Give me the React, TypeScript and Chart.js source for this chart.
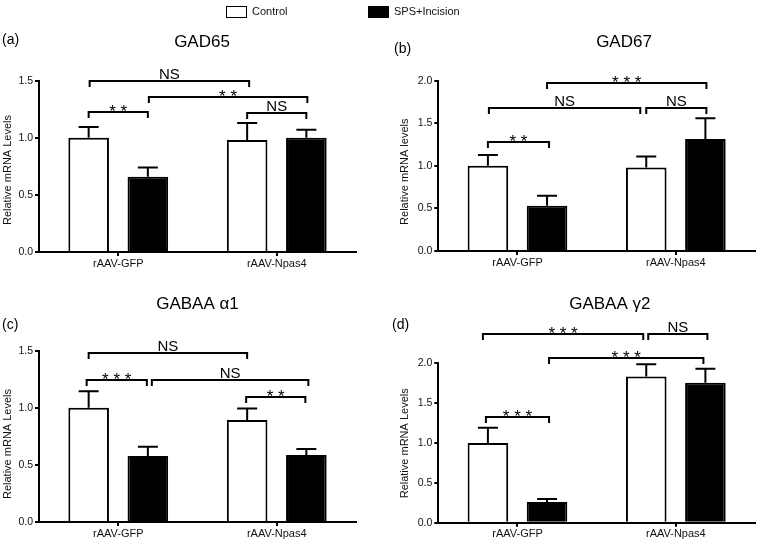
import React, { useEffect, useRef } from "react";
import { Chart, registerables } from "chart.js";
Chart.register(...registerables);

const FONT = "'Liberation Sans', Arial, Helvetica, sans-serif";
Chart.defaults.font.family = FONT;

// ---- data ----
const categories = ["rAAV-GFP", "rAAV-Npas4"];
const seriesNames = ["Control", "SPS+Incision"];

const gad65Control = [1.0, 0.98];
const gad65ControlSem = [0.095, 0.15];
const gad65Sps = [0.66, 1.0];
const gad65SpsSem = [0.08, 0.07];

const gad67Control = [1.0, 0.98];
const gad67ControlSem = [0.127, 0.13];
const gad67Sps = [0.53, 1.315];
const gad67SpsSem = [0.12, 0.245];

const gabaA1Control = [1.0, 0.893];
const gabaA1ControlSem = [0.144, 0.1];
const gabaA1Sps = [0.578, 0.587];
const gabaA1SpsSem = [0.08, 0.052];

const gabaG2Control = [1.0, 1.833];
const gabaG2ControlSem = [0.19, 0.154];
const gabaG2Sps = [0.26, 1.757];
const gabaG2SpsSem = [0.037, 0.176];

const yTicks15 = [0, 0.5, 1.0, 1.5];
const yTicks20 = [0, 0.5, 1.0, 1.5, 2.0];

// significance brackets: from [dataset, index] to [dataset, index], height (value), label
const gad65Brackets = [
  { f: [0, 0], t: [1, 0], y: 1.223, l: "**", dx: [0, 0] },
  { f: [0, 0], t: [0, 1], y: 1.5, l: "NS", dx: [1, 2] },
  { f: [1, 0], t: [1, 1], y: 1.36, l: "**", dx: [1, 1] },
  { f: [0, 1], t: [1, 1], y: 1.22, l: "NS", dx: [0, 0] },
];
const gad67Brackets = [
  { f: [1, 0], t: [1, 1], y: 1.97, l: "***", dx: [0, 1] },
  { f: [0, 0], t: [0, 1], y: 1.683, l: "NS", dx: [1, -6] },
  { f: [0, 1], t: [1, 1], y: 1.683, l: "NS", dx: [0, 1] },
  { f: [0, 0], t: [1, 0], y: 1.276, l: "**", dx: [0, 2] },
];
const gabaA1Brackets = [
  { f: [0, 0], t: [0, 1], y: 1.477, l: "NS", dx: [0, 0] },
  { f: [0, 0], t: [1, 0], y: 1.243, l: "***", dx: [-2, -1] },
  { f: [1, 0], t: [1, 1], y: 1.243, l: "NS", dx: [4, 2] },
  { f: [0, 1], t: [1, 1], y: 1.097, l: "**", dx: [-1, -1] },
];
const gabaG2Brackets = [
  { f: [0, 0], t: [0, 1], y: 2.368, l: "***", dx: [-5, -3] },
  { f: [0, 1], t: [1, 1], y: 2.368, l: "NS", dx: [2, 2] },
  { f: [1, 0], t: [1, 1], y: 2.063, l: "***", dx: [2, -2] },
  { f: [0, 0], t: [1, 0], y: 1.322, l: "***", dx: [-2, 2] },
];

// ---- layout ----
const panels = [
  {
    key: "a", left: 0, top: 0, w: 379, h: 271, yW: 39, padR: 23, padT: 80.7, xH: 19,
    yMax: 1.5, yTicks: yTicks15, title: "GAD65", titleX: 202, titleY: 42.5,
    tag: "(a)", tagX: 2, tagY: 40, yTitle: "Relative mRNA Levels", yTitleX: 8, yTitleY: 170,
    control: gad65Control, controlSem: gad65ControlSem, sps: gad65Sps, spsSem: gad65SpsSem,
    brackets: gad65Brackets,
  },
  {
    key: "b", left: 379, top: 0, w: 379, h: 271, yW: 59.3, padR: 3, padT: 80.7, xH: 20,
    yMax: 2.0, yTicks: yTicks20, title: "GAD67", titleX: 245, titleY: 42.5,
    tag: "(b)", tagX: 15, tagY: 49.5, yTitle: "Relative mRNA levels", yTitleX: 25.7, yTitleY: 171.7,
    control: gad67Control, controlSem: gad67ControlSem, sps: gad67Sps, spsSem: gad67SpsSem,
    brackets: gad67Brackets,
  },
  {
    key: "c", left: 0, top: 271, w: 379, h: 271, yW: 39, padR: 23, padT: 79.7, xH: 20,
    yMax: 1.5, yTicks: yTicks15, title: "GABAA \u03b11", titleX: 197.5, titleY: 33,
    tag: "(c)", tagX: 2, tagY: 54, yTitle: "Relative mRNA Levels", yTitleX: 8, yTitleY: 173,
    control: gabaA1Control, controlSem: gabaA1ControlSem, sps: gabaA1Sps, spsSem: gabaA1SpsSem,
    brackets: gabaA1Brackets,
  },
  {
    key: "d", left: 379, top: 271, w: 379, h: 271, yW: 59.3, padR: 3, padT: 92.3, xH: 19.3,
    yMax: 2.0, yTicks: yTicks20, title: "GABAA \u03b32", titleX: 230.8, titleY: 33,
    tag: "(d)", tagX: 13, tagY: 54, yTitle: "Relative mRNA Levels", yTitleX: 25.7, yTitleY: 172.3,
    control: gabaG2Control, controlSem: gabaG2ControlSem, sps: gabaG2Sps, spsSem: gabaG2SpsSem,
    brackets: gabaG2Brackets,
  },
];

function Panel({ p }: { p: any }) {
  const ref = useRef<HTMLCanvasElement | null>(null);
  useEffect(() => {
    if (!ref.current) return;
    const sems = [p.controlSem, p.spsSem];
    const annot = {
      id: "annot" + p.key,
      afterDatasetsDraw(chart: any) {
        const ctx = chart.ctx;
        const ys = chart.scales.y;
        ctx.save();
        ctx.strokeStyle = "#000";
        ctx.lineWidth = 2;
        chart.data.datasets.forEach((ds: any, di: number) => {
          const meta = chart.getDatasetMeta(di);
          meta.data.forEach((bar: any, i: number) => {
            const v = ds.data[i];
            const top = ys.getPixelForValue(v + sems[di][i]);
            ctx.beginPath();
            ctx.moveTo(bar.x, bar.y);
            ctx.lineTo(bar.x, top);
            ctx.moveTo(bar.x - 10, top);
            ctx.lineTo(bar.x + 10, top);
            ctx.stroke();
          });
        });
        ctx.restore();
      },
      afterDraw(chart: any) {
        const ctx = chart.ctx;
        const ys = chart.scales.y;
        ctx.save();
        ctx.strokeStyle = "#000";
        ctx.fillStyle = "#000";
        ctx.lineWidth = 2;
        p.brackets.forEach((b: any) => {
          const x1 = chart.getDatasetMeta(b.f[0]).data[b.f[1]].x + b.dx[0];
          const x2 = chart.getDatasetMeta(b.t[0]).data[b.t[1]].x + b.dx[1];
          const y = Math.round(ys.getPixelForValue(b.y));
          ctx.beginPath();
          ctx.moveTo(x1, y + 6);
          ctx.lineTo(x1, y);
          ctx.lineTo(x2, y);
          ctx.lineTo(x2, y + 6);
          ctx.stroke();
          ctx.textAlign = "center";
          ctx.textBaseline = "alphabetic";
          const cx = (x1 + x2) / 2;
          if (b.l === "NS") {
            ctx.font = `15px ${FONT}`;
            ctx.fillText("NS", cx, y - 2);
          } else {
            ctx.font = `17px ${FONT}`;
            ctx.fillText(b.l.split("").join(" "), cx, y + 4.5);
          }
        });
        // titles
        ctx.textBaseline = "middle";
        ctx.textAlign = "center";
        ctx.font = `17px ${FONT}`;
        ctx.fillText(p.title, p.titleX, p.titleY);
        ctx.textAlign = "left";
        ctx.font = `14px ${FONT}`;
        ctx.fillText(p.tag, p.tagX, p.tagY);
        // y axis title
        ctx.save();
        ctx.translate(p.yTitleX, p.yTitleY);
        ctx.rotate(-Math.PI / 2);
        ctx.textAlign = "center";
        ctx.font = `11px ${FONT}`;
        ctx.fillStyle = "#111";
        ctx.fillText(p.yTitle, 0, 0);
        ctx.restore();
        ctx.restore();
      },
    };
    const chart = new Chart(ref.current, {
      type: "bar",
      data: {
        labels: categories,
        datasets: [
          {
            label: seriesNames[0],
            data: p.control,
            backgroundColor: "#fff",
            borderColor: "#000",
            borderWidth: 2,
            categoryPercentage: 0.747,
            barPercentage: 0.686,
          },
          {
            label: seriesNames[1],
            data: p.sps,
            backgroundColor: "#000",
            borderColor: "#000",
            borderWidth: 2,
            categoryPercentage: 0.747,
            barPercentage: 0.686,
          },
        ],
      },
      options: {
        animation: false,
        responsive: false,
        maintainAspectRatio: false,
        devicePixelRatio: 1,
        layout: { padding: { left: 0, right: p.padR, top: p.padT, bottom: 0 } },
        plugins: {
          legend: { display: false },
          tooltip: { enabled: false },
          title: { display: false },
        },
        scales: {
          x: {
            grid: {
              display: true,
              drawOnChartArea: false,
              drawTicks: true,
              tickLength: 4,
              offset: false,
              color: "#000",
              lineWidth: 2,
            },
            border: { display: true, color: "#000", width: 2 },
            ticks: { color: "#111", font: { size: 11, family: FONT }, padding: 1 },
            afterFit: (s: any) => {
              s.height = p.xH;
            },
          },
          y: {
            min: 0,
            max: p.yMax,
            afterBuildTicks: (s: any) => {
              s.ticks = p.yTicks.map((v: number) => ({ value: v }));
            },
            ticks: {
              color: "#111",
              font: { size: 10.5, family: FONT },
              padding: 2,
              callback: (v: any) => Number(v).toFixed(1),
            },
            grid: {
              drawOnChartArea: false,
              drawTicks: true,
              tickLength: 4,
              color: "#000",
              lineWidth: 2,
            },
            border: { display: true, color: "#000", width: 2 },
            afterFit: (s: any) => {
              s.width = p.yW;
            },
          },
        },
      },
      plugins: [annot],
    } as any);
    return () => chart.destroy();
  }, []);
  return (
    <canvas
      ref={ref}
      width={p.w}
      height={p.h}
      style={{ position: "absolute", left: p.left, top: p.top, width: p.w, height: p.h }}
    />
  );
}

export default function App() {
  const legendText: React.CSSProperties = {
    position: "absolute",
    top: 4,
    fontFamily: FONT,
    fontSize: 11,
    lineHeight: "15px",
    color: "#111",
    whiteSpace: "nowrap",
  };
  return (
    <div style={{ position: "absolute", left: 0, top: 0, width: 758, height: 542, background: "#fff" }}>
      {panels.map((p) => (
        <Panel key={p.key} p={p} />
      ))}
      <div
        style={{
          position: "absolute", left: 226, top: 6, width: 21, height: 12,
          border: "1.5px solid #000", boxSizing: "border-box", background: "#fff",
        }}
      />
      <div style={{ ...legendText, left: 252 }}>{seriesNames[0]}</div>
      <div
        style={{
          position: "absolute", left: 368, top: 6, width: 21, height: 12,
          background: "#000",
        }}
      />
      <div style={{ ...legendText, left: 394 }}>{seriesNames[1]}</div>
    </div>
  );
}
